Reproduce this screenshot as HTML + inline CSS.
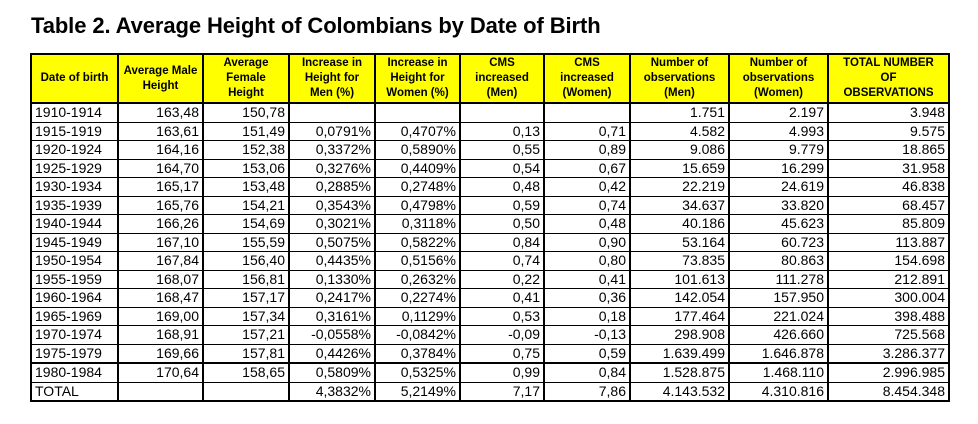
<!DOCTYPE html>
<html><head><meta charset="utf-8"><style>
body{margin:0;background:#fff;width:978px;height:424px;overflow:hidden;font-family:"Liberation Sans",Arial,sans-serif;}
h1{position:absolute;left:31px;top:13px;margin:0;font-size:22px;font-weight:bold;color:#000;letter-spacing:-0.1px;}
table{position:absolute;left:30px;top:53px;border-collapse:collapse;table-layout:fixed;border:2px solid #000;}
td,th{border:1px solid #000;padding:0 3px;font-size:14px;line-height:15px;height:17.5px;text-align:right;white-space:nowrap;overflow:hidden;}
th{background:#ffff00;font-size:11.5px;line-height:15px;height:47px;text-align:center;white-space:normal;border-bottom:2px solid #000;padding:0 5px;}
th.w{padding:0 1px;}
td:first-child{text-align:left;}
tr.thick td{border-bottom:2px solid #000;}
td,th{border-right:2px solid #000;}
</style></head><body>
<h1>Table 2. Average Height of Colombians by Date of Birth</h1>
<table>
<colgroup><col style="width:87px"><col style="width:85px"><col style="width:86px"><col style="width:86px"><col style="width:85px"><col style="width:84px"><col style="width:86px"><col style="width:99px"><col style="width:99px"><col style="width:121px"></colgroup>
<tr><th class="w">Date of birth</th><th class="w">Average Male<br>Height</th><th>Average<br>Female<br>Height</th><th>Increase in<br>Height for<br>Men (%)</th><th class="w">Increase in<br>Height for<br>Women (%)</th><th>CMS<br>increased<br>(Men)</th><th>CMS<br>increased<br>(Women)</th><th class="w">Number of<br>observations<br>(Men)</th><th class="w">Number of<br>observations<br>(Women)</th><th class="w">TOTAL NUMBER<br>OF<br>OBSERVATIONS</th></tr>
<tr><td>1910-1914</td><td>163,48</td><td>150,78</td><td></td><td></td><td></td><td></td><td>1.751</td><td>2.197</td><td>3.948</td></tr>
<tr><td>1915-1919</td><td>163,61</td><td>151,49</td><td>0,0791%</td><td>0,4707%</td><td>0,13</td><td>0,71</td><td>4.582</td><td>4.993</td><td>9.575</td></tr>
<tr><td>1920-1924</td><td>164,16</td><td>152,38</td><td>0,3372%</td><td>0,5890%</td><td>0,55</td><td>0,89</td><td>9.086</td><td>9.779</td><td>18.865</td></tr>
<tr><td>1925-1929</td><td>164,70</td><td>153,06</td><td>0,3276%</td><td>0,4409%</td><td>0,54</td><td>0,67</td><td>15.659</td><td>16.299</td><td>31.958</td></tr>
<tr><td>1930-1934</td><td>165,17</td><td>153,48</td><td>0,2885%</td><td>0,2748%</td><td>0,48</td><td>0,42</td><td>22.219</td><td>24.619</td><td>46.838</td></tr>
<tr><td>1935-1939</td><td>165,76</td><td>154,21</td><td>0,3543%</td><td>0,4798%</td><td>0,59</td><td>0,74</td><td>34.637</td><td>33.820</td><td>68.457</td></tr>
<tr><td>1940-1944</td><td>166,26</td><td>154,69</td><td>0,3021%</td><td>0,3118%</td><td>0,50</td><td>0,48</td><td>40.186</td><td>45.623</td><td>85.809</td></tr>
<tr><td>1945-1949</td><td>167,10</td><td>155,59</td><td>0,5075%</td><td>0,5822%</td><td>0,84</td><td>0,90</td><td>53.164</td><td>60.723</td><td>113.887</td></tr>
<tr><td>1950-1954</td><td>167,84</td><td>156,40</td><td>0,4435%</td><td>0,5156%</td><td>0,74</td><td>0,80</td><td>73.835</td><td>80.863</td><td>154.698</td></tr>
<tr><td>1955-1959</td><td>168,07</td><td>156,81</td><td>0,1330%</td><td>0,2632%</td><td>0,22</td><td>0,41</td><td>101.613</td><td>111.278</td><td>212.891</td></tr>
<tr><td>1960-1964</td><td>168,47</td><td>157,17</td><td>0,2417%</td><td>0,2274%</td><td>0,41</td><td>0,36</td><td>142.054</td><td>157.950</td><td>300.004</td></tr>
<tr><td>1965-1969</td><td>169,00</td><td>157,34</td><td>0,3161%</td><td>0,1129%</td><td>0,53</td><td>0,18</td><td>177.464</td><td>221.024</td><td>398.488</td></tr>
<tr><td>1970-1974</td><td>168,91</td><td>157,21</td><td>-0,0558%</td><td>-0,0842%</td><td>-0,09</td><td>-0,13</td><td>298.908</td><td>426.660</td><td>725.568</td></tr>
<tr class="thick"><td>1975-1979</td><td>169,66</td><td>157,81</td><td>0,4426%</td><td>0,3784%</td><td>0,75</td><td>0,59</td><td>1.639.499</td><td>1.646.878</td><td>3.286.377</td></tr>
<tr><td>1980-1984</td><td>170,64</td><td>158,65</td><td>0,5809%</td><td>0,5325%</td><td>0,99</td><td>0,84</td><td>1.528.875</td><td>1.468.110</td><td>2.996.985</td></tr>
<tr><td>TOTAL</td><td></td><td></td><td>4,3832%</td><td>5,2149%</td><td>7,17</td><td>7,86</td><td>4.143.532</td><td>4.310.816</td><td>8.454.348</td></tr>
</table>
</body></html>
